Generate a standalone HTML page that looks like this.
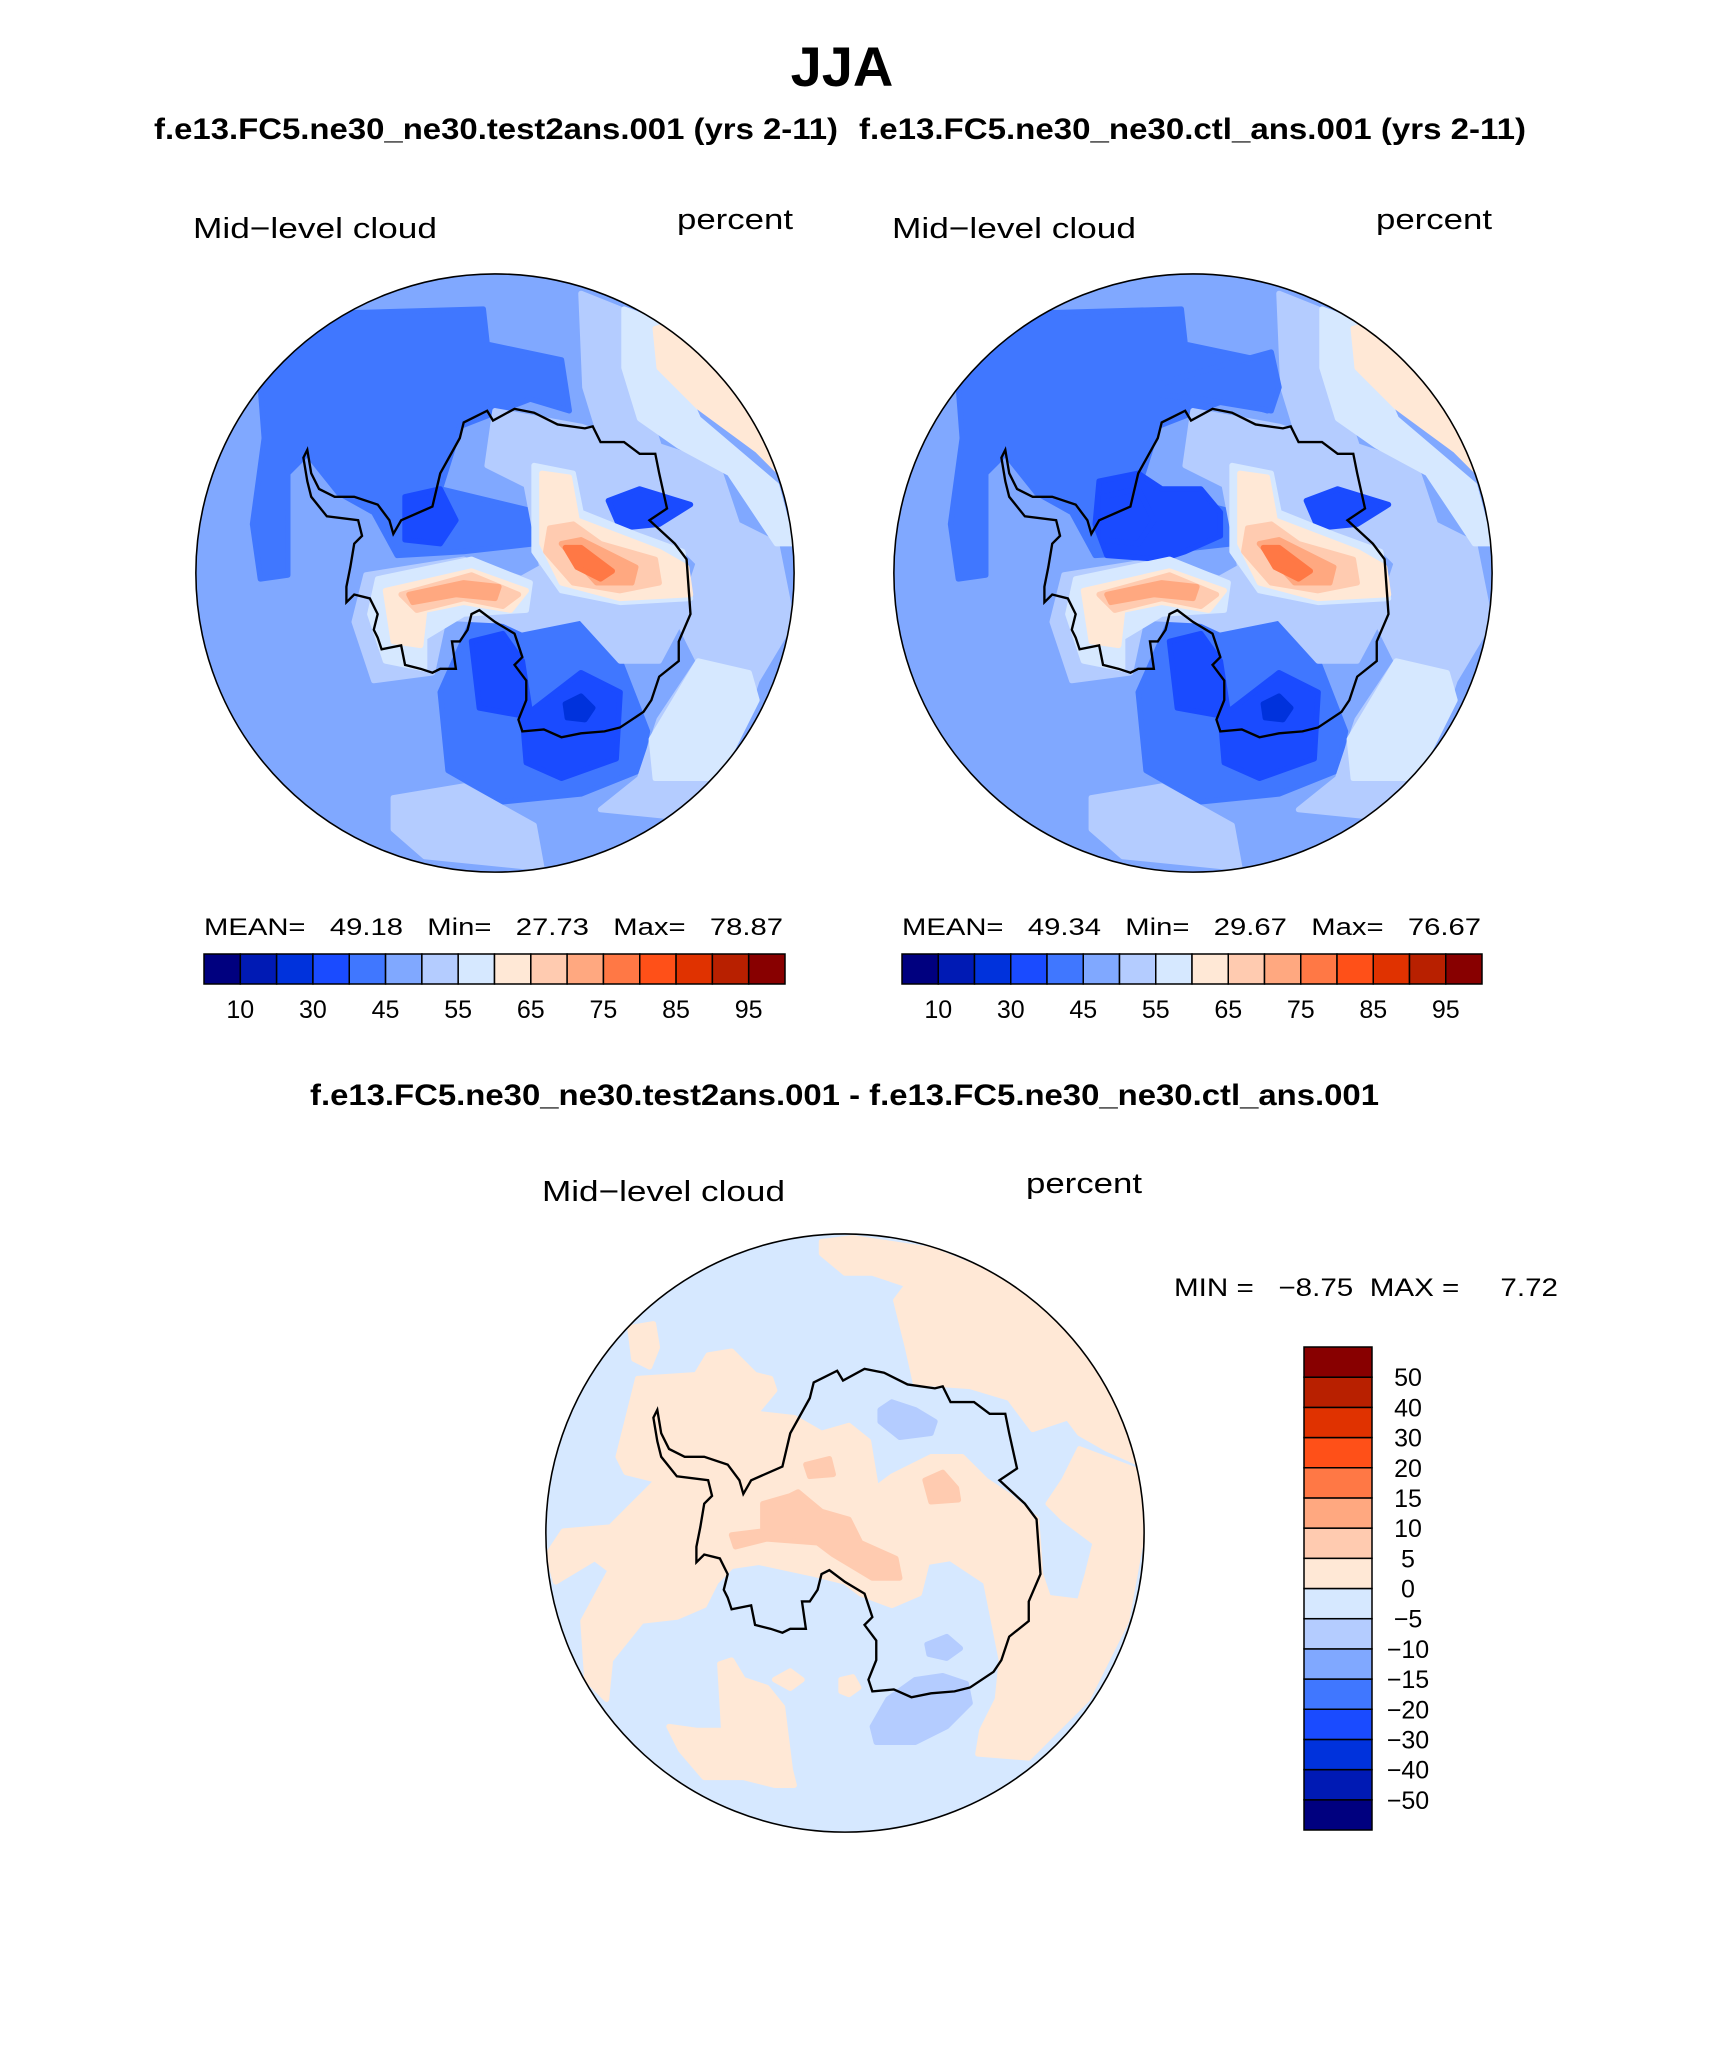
<!DOCTYPE html>
<html><head><meta charset="utf-8"><style>
html,body{margin:0;padding:0;background:#fff;}
svg{display:block;}
text{font-family:"Liberation Sans",sans-serif;fill:#000;white-space:pre;}
</style></head><body>
<svg id="root" width="1710" height="2061" viewBox="0 0 1710 2061" xmlns="http://www.w3.org/2000/svg" xml:space="preserve">
<defs>
<clipPath id="cc"><circle cx="780" cy="775" r="765"/></clipPath>
</defs>
<text x="842" y="86" font-size="56" font-weight="bold" text-anchor="middle">JJA</text>
<text x="154" y="139" font-size="30" font-weight="bold" textLength="684" lengthAdjust="spacingAndGlyphs">f.e13.FC5.ne30_ne30.test2ans.001 (yrs 2-11)</text>
<text x="859" y="139" font-size="30" font-weight="bold" textLength="667" lengthAdjust="spacingAndGlyphs">f.e13.FC5.ne30_ne30.ctl_ans.001 (yrs 2-11)</text>

<text x="193" y="238" font-size="29" textLength="244" lengthAdjust="spacingAndGlyphs">Mid−level cloud</text>
<text x="677" y="229" font-size="29" textLength="116" lengthAdjust="spacingAndGlyphs">percent</text>
<text x="892" y="238" font-size="29" textLength="244" lengthAdjust="spacingAndGlyphs">Mid−level cloud</text>
<text x="1376" y="229" font-size="29" textLength="116" lengthAdjust="spacingAndGlyphs">percent</text>

<g id="mapL" transform="translate(190,270) scale(0.391)"></g>
<g id="mapR" transform="translate(888,270) scale(0.391)"></g>

<text x="204" y="935" font-size="24" textLength="579" lengthAdjust="spacingAndGlyphs">MEAN=   49.18   Min=   27.73   Max=   78.87</text>
<text x="902" y="935" font-size="24" textLength="579" lengthAdjust="spacingAndGlyphs">MEAN=   49.34   Min=   29.67   Max=   76.67</text>
<g id="cbL"></g>
<g id="cbR"></g>

<text x="310" y="1105" font-size="30" font-weight="bold" textLength="1069" lengthAdjust="spacingAndGlyphs">f.e13.FC5.ne30_ne30.test2ans.001 - f.e13.FC5.ne30_ne30.ctl_ans.001</text>
<text x="542" y="1201" font-size="29" textLength="243" lengthAdjust="spacingAndGlyphs">Mid−level cloud</text>
<text x="1026" y="1193" font-size="29" textLength="116" lengthAdjust="spacingAndGlyphs">percent</text>
<g id="mapD" transform="translate(540,1230) scale(0.391)"></g>
<text x="1174" y="1296" font-size="25" textLength="384" lengthAdjust="spacingAndGlyphs">MIN =   −8.75  MAX =     7.72</text>
<g id="cbD"></g>
</svg>
<script>
const NS='http://www.w3.org/2000/svg';
const colors=['#00007f','#001ab4','#0032dc','#1a4bff','#4077ff','#80a8ff','#b4ccff','#d6e8ff','#ffe8d6','#ffcbb0','#ffa880','#ff7845','#ff5018','#e03200','#b82000','#880000'];
const absLabels=['10','30','45','55','65','75','85','95'];
const diffLabels=['−50','−40','−30','−20','−15','−10','−5','0','5','10','15','20','30','40','50'];

const blobsAbs=[
[4,[[230,170],[400,110],[750,100],[760,190],[950,230],[970,360],[870,330],[690,400],[640,560],[890,620],[880,700],[700,720],[530,730],[470,620],[380,570],[300,470],[250,520],[250,780],[180,790],[160,650],[190,430],[180,300]]],
[4,[[640,1080],[720,900],[850,920],[1000,890],[1100,1000],[1170,1180],[1150,1280],[1000,1340],[800,1360],[660,1280]]],
[6,[[1000,60],[1100,100],[1150,300],[1200,450],[1350,500],[1400,650],[1500,700],[1540,900],[1450,1050],[1400,1200],[1250,1400],[1050,1380],[1150,1300],[1200,1150],[1300,1000],[1250,900],[1300,750],[1200,650],[1050,430],[1010,300]]],
[6,[[780,360],[1000,400],[1150,450],[1250,700],[1280,850],[1200,1000],[1100,1000],[1000,890],[850,920],[720,860],[900,760],[860,550],[760,500]]],
[6,[[520,1350],[700,1320],[880,1420],[900,1530],[600,1500],[520,1430]]],
[6,[[450,780],[700,740],[880,800],[850,900],[650,890],[620,1030],[470,1050],[420,900]]],
[3,[[720,950],[800,930],[850,1000],[870,1130],[1000,1030],[1100,1080],[1090,1250],[950,1300],[860,1260],[850,1140],[740,1120]]],
[3,[[550,580],[640,560],[680,640],[640,700],[550,690]]],
[3,[[1070,590],[1150,560],[1280,600],[1200,650],[1100,660]]],
[7,[[1110,100],[1190,130],[1300,380],[1500,550],[1540,700],[1500,700],[1380,520],[1250,450],[1150,380],[1110,250]]],
[7,[[1180,1200],[1300,1000],[1430,1030],[1450,1100],[1350,1300],[1190,1300]]],
[7,[[480,790],[720,740],[870,800],[860,870],[700,880],[600,940],[600,1020],[500,1000],[460,880]]],
[7,[[880,500],[980,520],[1000,620],[1150,680],[1260,720],[1280,840],[1100,850],[950,820],[880,720]]],
[8,[[1190,150],[1260,130],[1400,230],[1510,520],[1450,460],[1300,350],[1200,250]]],
[8,[[500,820],[720,770],[860,820],[820,870],[700,850],[600,870],[590,960],[520,950]]],
[8,[[900,520],[970,530],[990,640],[1200,720],[1270,760],[1280,830],[1100,840],[950,800],[900,700]]],
[9,[[540,830],[720,780],[840,830],[800,860],[700,840],[580,870]]],
[9,[[920,660],[980,650],[1050,700],[1190,740],[1200,800],[1100,820],[980,800],[910,720]]],
[10,[[560,830],[700,800],[790,810],[780,840],[680,830],[570,850]]],
[10,[[950,700],[1000,690],[1140,760],[1130,800],[1040,800]]],
[11,[[960,710],[1000,710],[1080,770],[1050,790],[990,760]]],
[2,[[960,1110],[1000,1090],[1030,1120],[1010,1150],[965,1145]]]
];
const blobsCtlExtra=[
[4,[[700,290],[800,260],[980,210],[1000,300],[980,360],[800,330],[700,320]]],
[3,[[540,540],[640,520],[700,560],[800,560],[850,620],[850,680],[760,720],[700,740],[560,730],[530,650]]]
];
const blobsDiff=[
[8,[[720,30],[800,20],[1000,50],[1200,130],[1400,280],[1500,420],[1540,600],[1450,560],[1380,520],[1350,480],[1260,510],[1200,430],[1100,400],[960,390],[940,300],[910,180],[940,140],[850,110],[780,110],[720,60]]],
[8,[[1540,780],[1500,1000],[1400,1200],[1250,1350],[1120,1340],[1130,1280],[1170,1200],[1180,1100],[1160,1000],[1140,900],[1200,860],[1280,880],[1300,940],[1380,950],[1400,880],[1420,800]]],
[8,[[1380,560],[1540,620],[1540,780],[1420,800],[1340,740],[1300,700],[1340,640]]],
[8,[[560,470],[650,480],[720,520],[790,500],[840,540],[860,660],[900,630],[1000,580],[1080,580],[1140,640],[1200,680],[1270,740],[1280,880],[1140,900],[1050,840],[990,850],[970,930],[900,960],[820,930],[780,900],[700,880],[560,850],[490,860],[450,900],[420,960],[350,990],[260,1000],[180,1100],[170,1200],[120,1150],[110,1000],[180,870],[140,840],[40,900],[20,830],[60,770],[180,760],[260,680],[300,640],[220,620],[200,580],[250,380],[400,370],[430,320],[490,310],[550,370],[590,380],[600,410],[550,470]]],
[8,[[330,1270],[400,1280],[470,1280],[460,1110],[490,1100],[520,1150],[580,1170],[620,1220],[640,1380],[650,1420],[600,1420],[520,1400],[420,1400],[360,1330]]],
[8,[[230,250],[290,240],[300,300],[280,350],[240,330]]],
[8,[[600,1150],[640,1128],[670,1150],[640,1172]]],
[8,[[770,1150],[800,1143],[815,1170],[790,1188],[770,1180]]],
[9,[[570,700],[640,680],[660,670],[720,720],[790,740],[820,800],[910,840],[920,890],[850,890],[750,830],[710,800],[580,790],[500,810],[490,780],[570,770]]],
[9,[[680,600],[740,585],[750,625],[690,630]]],
[9,[[985,640],[1030,620],[1065,660],[1070,690],[1000,695]]],
[6,[[870,460],[900,440],[960,460],[1010,490],[1000,520],[920,530],[870,490]]],
[6,[[990,1060],[1040,1040],[1075,1070],[1040,1095],[995,1085]]],
[6,[[850,1270],[890,1200],[960,1150],[1030,1140],[1090,1160],[1100,1210],[1040,1270],[960,1310],[860,1310]]]
];
const coast=[[520,675],[540,640],[620,605],[640,520],[690,430],[700,390],[720,380],[760,360],[775,385],[830,355],[880,365],[940,395],[1010,405],[1030,400],[1050,440],[1110,440],[1150,470],[1190,470],[1200,520],[1220,610],[1175,640],[1240,700],[1270,740],[1280,880],[1250,950],[1250,1000],[1200,1040],[1180,1100],[1160,1130],[1100,1170],[1060,1180],[1000,1185],[950,1195],[905,1175],[850,1180],[840,1150],[860,1100],[860,1050],[830,1010],[850,990],[830,930],[780,900],[740,870],[720,880],[710,920],[690,950],[670,950],[680,1020],[640,1020],[620,1030],[590,1020],[550,1010],[540,960],[490,970],[480,940],[470,920],[480,880],[460,840],[420,830],[400,850],[400,810],[410,760],[420,700],[440,680],[430,640],[350,630],[310,580],[300,540],[290,480],[300,460],[310,520],[330,560],[370,580],[420,580],[480,600],[510,640]];

function pts(a){return a.map(p=>p.join(',')).join(' ');}
function drawMap(id,bg,blobs){
  const g=document.getElementById(id);
  const cg=document.createElementNS(NS,'g');cg.setAttribute('clip-path','url(#cc)');g.appendChild(cg);
  const b=document.createElementNS(NS,'circle');
  
  
  b.setAttribute('cx',780);b.setAttribute('cy',775);b.setAttribute('r',765);b.setAttribute('fill',colors[bg]);cg.appendChild(b);
  blobs.forEach(bl=>{const p=document.createElementNS(NS,'polygon');
    
    
    p.setAttribute('points',pts(bl[1]));p.setAttribute('fill',colors[bl[0]]);p.setAttribute('stroke',colors[bl[0]]);p.setAttribute('stroke-width','14');p.setAttribute('stroke-linejoin','round');cg.appendChild(p);});
  const c=document.createElementNS(NS,'polygon');
  
  
  c.setAttribute('points',pts(coast));c.setAttribute('fill','none');c.setAttribute('stroke','#000');c.setAttribute('stroke-width','6');cg.appendChild(c);
  const o=document.createElementNS(NS,'circle');
  
  
  o.setAttribute('cx',780);o.setAttribute('cy',775);o.setAttribute('r',765);o.setAttribute('fill','none');o.setAttribute('stroke','#000');o.setAttribute('stroke-width','4');g.appendChild(o);
}
drawMap('mapL',5,blobsAbs);
drawMap('mapR',5,blobsAbs.slice(0,6).concat(blobsCtlExtra,blobsAbs.slice(6)));
drawMap('mapD',7,blobsDiff);

function hbar(id,x0,x1,y0,y1){
  const g=document.getElementById(id);const w=(x1-x0)/colors.length;
  colors.forEach((c,i)=>{const r=document.createElementNS(NS,'rect');
    
    
    r.setAttribute('x',x0+i*w);r.setAttribute('y',y0);r.setAttribute('width',w);r.setAttribute('height',y1-y0);r.setAttribute('fill',c);r.setAttribute('stroke','#000');r.setAttribute('stroke-width','1.5');g.appendChild(r);});
  absLabels.forEach((l,i)=>{const t=document.createElementNS(NS,'text');
    
    
    t.setAttribute('x',x0+(2*i+1)*w);t.setAttribute('y',y1+34);t.setAttribute('font-size','25');t.setAttribute('text-anchor','middle');t.textContent=l;g.appendChild(t);});
}
hbar('cbL',204,785,954,984);
hbar('cbR',902,1482,954,984);
(function(){
  const g=document.getElementById('cbD');const x0=1304,x1=1372,y0=1347,y1=1830;const h=(y1-y0)/colors.length;
  colors.forEach((c,i)=>{const r=document.createElementNS(NS,'rect');
    
    
    r.setAttribute('x',x0);r.setAttribute('y',y1-(i+1)*h);r.setAttribute('width',x1-x0);r.setAttribute('height',h);r.setAttribute('fill',c);r.setAttribute('stroke','#000');r.setAttribute('stroke-width','1.5');g.appendChild(r);});
  diffLabels.forEach((l,i)=>{const t=document.createElementNS(NS,'text');
    
    
    t.setAttribute('x',1408);t.setAttribute('y',y1-(i+1)*h+9);t.setAttribute('font-size','25');t.setAttribute('text-anchor','middle');t.textContent=l;g.appendChild(t);});
})();
</script>
</body></html>
